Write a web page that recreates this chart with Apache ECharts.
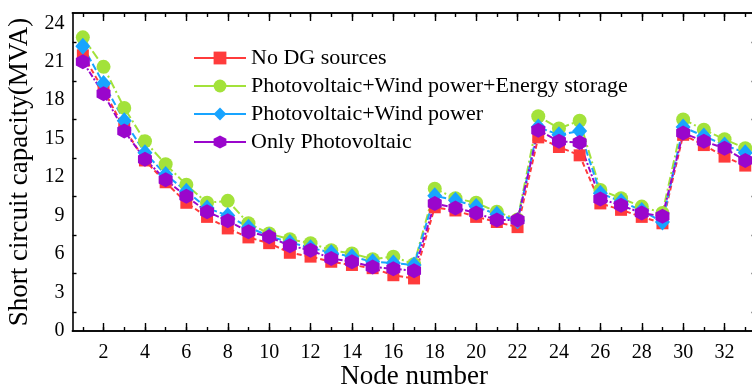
<!DOCTYPE html>
<html>
<head>
<meta charset="utf-8">
<script src="https://cdn.jsdelivr.net/npm/echarts@6/dist/echarts.min.js"></script>
<style>
  html, body { margin: 0; padding: 0; background: #fff; }
  #chart { width: 752px; height: 391px; }
</style>
</head>
<body>
<div id="chart"></div>
<script>
// node numbers on the x axis
const nodes = ['1', '2', '3', '4', '5', '6', '7', '8', '9', '10', '11', '12', '13', '14', '15', '16', '17',
  '18', '19', '20', '21', '22', '23', '24', '25', '26', '27', '28', '29', '30', '31', '32', '33'];

// short circuit capacity (MVA)
const noDG = [21.5, 18.8, 15.8, 13.3, 11.6, 10.0, 8.9, 8.0, 7.3, 6.85, 6.1, 5.8, 5.4, 5.15, 4.9, 4.35, 4.1,
  9.65, 9.4, 8.9, 8.5, 8.1, 15.1, 14.35, 13.7, 9.95, 9.45, 8.9, 8.4, 15.3, 14.5, 13.6, 12.9];
const pvWindStorage = [22.9, 20.6, 17.4, 14.8, 13.0, 11.4, 10.0, 10.15, 8.4, 7.6, 7.15, 6.85, 6.3, 6.05, 5.6, 5.8, 5.2,
  11.1, 10.35, 10.0, 9.3, 8.7, 16.75, 15.8, 16.4, 11.0, 10.35, 9.7, 9.2, 16.5, 15.7, 14.95, 14.25];
const pvWind = [22.2, 19.3, 16.4, 13.9, 12.2, 10.9, 9.6, 9.0, 8.1, 7.4, 6.9, 6.5, 6.1, 5.8, 5.4, 5.3, 5.15,
  10.55, 10.2, 9.7, 9.1, 8.6, 15.9, 15.3, 15.6, 10.75, 10.1, 9.4, 8.5, 15.9, 15.2, 14.5, 13.9];
const onlyPV = [21.0, 18.5, 15.6, 13.4, 11.8, 10.5, 9.3, 8.6, 7.75, 7.35, 6.65, 6.3, 5.65, 5.4, 5.0, 4.85, 4.7,
  9.95, 9.6, 9.2, 8.65, 8.65, 15.65, 14.8, 14.7, 10.3, 9.8, 9.2, 8.95, 15.45, 14.8, 14.25, 13.3];

const seriesNames = ['No DG sources', 'Photovoltaic+Wind power+Energy storage',
  'Photovoltaic+Wind power', 'Only Photovoltaic'];

const FONT = '"Liberation Serif", "Times New Roman", serif';
const hexagon = 'path://M0,-1L0.866,-0.5L0.866,0.5L0,1L-0.866,0.5L-0.866,-0.5Z';
const tickLine = { color: '#000', width: 1.4 };

const chart = echarts.init(document.getElementById('chart'));

// x axes share the same categories; extra copies only add ticks
const xBase = {
  type: 'category', data: nodes, boundaryGap: true,
  axisLine: { show: true, lineStyle: { color: '#000', width: 1.6 } },
  splitLine: { show: false },
  axisLabel: { show: false }
};
const shortTicks = { show: true, inside: true, length: 4, alignWithLabel: true, interval: 0, lineStyle: tickLine };
const longTicks = { show: true, inside: true, length: 8, alignWithLabel: true,
  interval: idx => idx % 2 === 1, lineStyle: tickLine };

const yBase = {
  type: 'value', min: 0, max: 24.8, interval: 3,
  axisLine: { show: true, lineStyle: { color: '#000', width: 1.6 } },
  axisTick: { inside: true, length: 8, lineStyle: tickLine },
  minorTick: { show: true, splitNumber: 2, length: 4, lineStyle: tickLine },
  splitLine: { show: false },
  axisLabel: { show: false }
};

const lineSeries = (name, data, color, symbol, size, dash) => ({
  name, type: 'line', data,
  symbol, symbolSize: size,
  showSymbol: true, showAllSymbol: true,
  itemStyle: { color },
  lineStyle: { color, width: 2, type: dash }
});

const option = {
  animation: false,
  backgroundColor: '#fff',
  grid: { left: 72.5, right: -3.6, top: 13, bottom: 60, outerBoundsMode: 'none' },
  legend: {
    orient: 'vertical',
    left: 188,
    top: 42,
    itemWidth: 52,
    itemHeight: 16,
    itemGap: 6,
    data: seriesNames,
    lineStyle: { type: 'solid', width: 2 },
    textStyle: { fontFamily: FONT, fontSize: 22, color: '#000', lineHeight: 21 }
  },
  xAxis: [
    Object.assign({}, xBase, {
      position: 'bottom', axisTick: shortTicks,
      name: 'Node number', nameLocation: 'middle', nameGap: 32,
      nameTextStyle: { fontFamily: FONT, fontSize: 27, color: '#000' }
    }),
    Object.assign({}, xBase, {
      position: 'bottom', axisTick: longTicks,
      axisLabel: {
        show: true, margin: 12, fontFamily: FONT, fontSize: 20, color: '#000',
        interval: idx => idx % 2 === 1
      }
    }),
    Object.assign({}, xBase, { position: 'top', axisTick: shortTicks }),
    Object.assign({}, xBase, { position: 'top', axisTick: longTicks })
  ],
  yAxis: [
    Object.assign({}, yBase, {
      position: 'left',
      axisLabel: {
        show: true, margin: 8, fontFamily: FONT, fontSize: 20, color: '#000',
        showMaxLabel: false,
        formatter: v => (v % 3 === 0 ? String(v) : '')
      },
      name: 'Short circuit capacity(MVA)', nameLocation: 'middle', nameGap: 33,
      nameTextStyle: { fontFamily: FONT, fontSize: 27, color: '#000' }
    }),
    Object.assign({}, yBase, { position: 'right' })
  ],
  series: [
    lineSeries(seriesNames[0], noDG, '#ff3b3b', 'rect', 12, [5, 3]),
    lineSeries(seriesNames[1], pvWindStorage, '#a3e23a', 'circle', 14, [9, 3, 2, 3]),
    lineSeries(seriesNames[2], pvWind, '#18a4ff', 'diamond', [15, 17], [7, 3]),
    lineSeries(seriesNames[3], onlyPV, '#9a06cc', hexagon, [14, 15], [6, 2, 2, 2])
  ]
};

chart.setOption(option);
</script>
</body>
</html>
